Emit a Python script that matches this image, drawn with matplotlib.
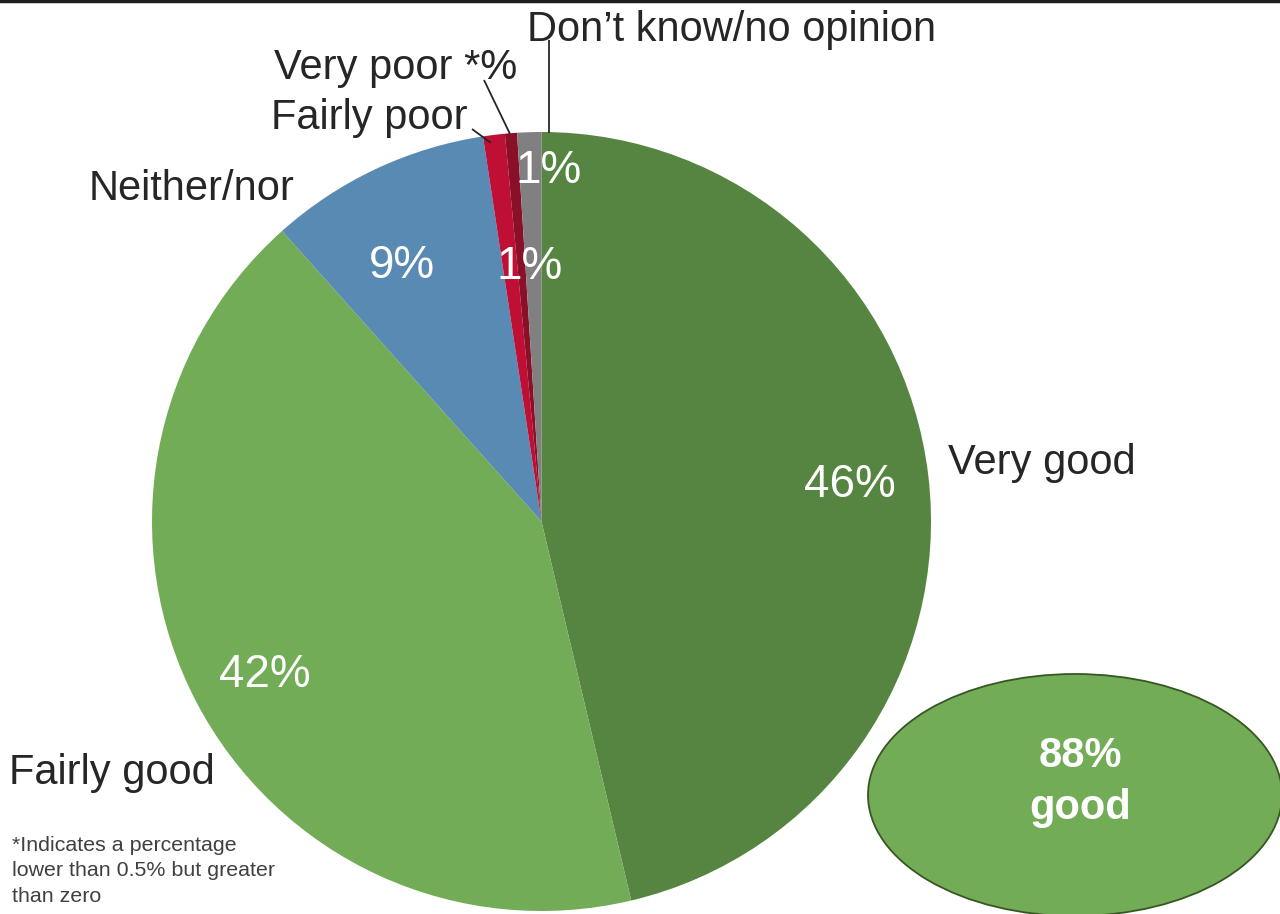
import matplotlib.pyplot as plt
from matplotlib.patches import Ellipse

plt.rcParams["font.family"] = ["Liberation Sans", "DejaVu Sans"]

categories = ["Very good", "Fairly good", "Neither/nor", "Fairly poor",
              "Very poor *%", "Don\u2019t know/no opinion"]
shares = [46.3, 42.1, 9.2, 0.9, 0.5, 1.0]
value_labels = ["46%", "42%", "9%", "1%", "", "1%"]
colors = ["#558540", "#72ac56", "#588ab3", "#c00f35", "#8a1029", "#808080"]
total_good = "88%\ngood"

W, H = 1280, 914


def py(y):
    # image rows run downwards, axes y runs upwards
    return H - y


fig = plt.figure(figsize=(12.8, 9.14), dpi=100, facecolor="white")
ax = fig.add_axes([0, 0, 1, 1])

cx, cy, r = 541.5, py(521.5), 389.5
wedges, _ = ax.pie(shares, colors=colors, startangle=90, counterclock=False,
                   center=(cx, cy), radius=r, frame=True,
                   wedgeprops=dict(edgecolor="none", linewidth=0))
ax.set_xlim(0, W)
ax.set_ylim(0, H)
ax.set_aspect("equal")
ax.axis("off")

# value labels inside the slices
label_pos = [(850, 485), (265, 675), (402, 266), (530, 267), None, (549, 171)]
for txt, pos in zip(value_labels, label_pos):
    if pos is None or not txt:
        continue
    ax.text(pos[0], py(pos[1]), txt, color="white", fontsize=33,
            ha="center", va="center")

# category labels around the pie
cat_pos = [(948, 463), (9, 773), (89, 189), (271, 118), (274, 68), (527, 30)]
for name, (x, y) in zip(categories, cat_pos):
    ax.text(x, py(y), name, color="#262626", fontsize=30, ha="left", va="center")

# leader lines for the thin slices
leaders = [((472, 129), (491, 143)), ((484, 80), (510, 134)),
           ((549, 40), (549, 133))]
for (x0, y0), (x1, y1) in leaders:
    ax.plot([x0, x1], [py(y0), py(y1)], color="#262626", lw=1.3,
            solid_capstyle="butt")

# combined "good" bubble
bubble = Ellipse((1075, py(795)), 414, 242, facecolor="#72ac56",
                 edgecolor="#375623", lw=1.3, clip_on=False)
ax.add_patch(bubble)
ax.text(1080, py(782), total_good, color="white", fontsize=30,
        fontweight="bold", ha="center", va="center", linespacing=1.38)

ax.text(12, py(871), "*Indicates a percentage\nlower than 0.5% but greater\nthan zero",
        color="#404040", fontsize=15.4, ha="left", va="center", linespacing=1.45)

# rule across the top edge
ax.plot([0, W], [H - 1, H - 1], color="#1f1f1f", lw=2.5, clip_on=False)

fig.savefig("out.png", dpi=100, facecolor="white")
